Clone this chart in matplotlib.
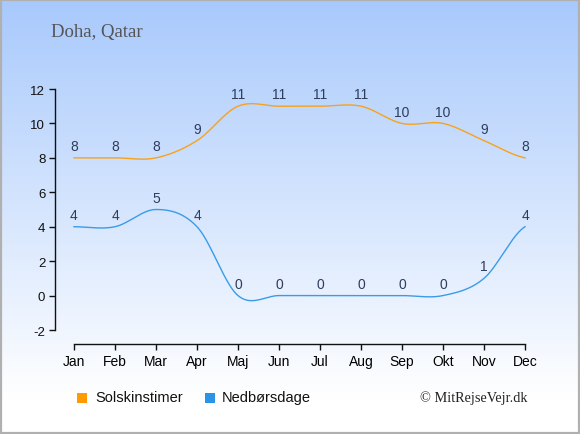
import numpy as np
import matplotlib
matplotlib.use("Agg")
import matplotlib.pyplot as plt
from matplotlib.patches import Rectangle

months = ["Jan", "Feb", "Mar", "Apr", "Maj", "Jun", "Jul", "Aug", "Sep", "Okt", "Nov", "Dec"]
sun_hours = [8, 8, 8, 9, 11, 11, 11, 11, 10, 10, 9, 8]
rain_days = [4, 4, 5, 4, 0, 0, 0, 0, 0, 0, 1, 4]
yticks = [-2, 0, 2, 4, 6, 8, 10, 12]

ORANGE = "#f7a21b"
BLUE = "#3a9be8"
LABEL = "#2e3d5c"

plt.rcParams["font.family"] = ["Liberation Sans", "DejaVu Sans"]


def catmull(y, n=40):
    y = np.asarray(y, float)
    p = np.concatenate([[y[0]], y, [y[-1]]])
    xs, ys = [], []
    for i in range(len(y) - 1):
        p0, p1, p2, p3 = p[i], p[i + 1], p[i + 2], p[i + 3]
        m1 = (p2 - p0) / 2.0
        m2 = (p3 - p1) / 2.0
        t = np.linspace(0, 1, n, endpoint=False)
        h00 = 2 * t**3 - 3 * t**2 + 1
        h10 = t**3 - 2 * t**2 + t
        h01 = -2 * t**3 + 3 * t**2
        h11 = t**3 - t**2
        xs.append(i + t)
        ys.append(h00 * p1 + h10 * m1 + h01 * p2 + h11 * m2)
    xs.append([len(y) - 1])
    ys.append([y[-1]])
    return np.concatenate(xs), np.concatenate(ys)


W, H = 580, 435
fig = plt.figure(figsize=(W / 100, H / 100), dpi=100)

bg = fig.add_axes([0, 0, 1, 1], zorder=-10)
grad = np.linspace(0, 1, 256)[:, None]
top = np.array([168, 201, 252]) / 255.0
bot = np.array([255, 255, 255]) / 255.0
frac = np.clip(grad / 0.92, 0, 1)
img = top[None, None, :] * (1 - frac[..., None]) + bot[None, None, :] * frac[..., None]
bg.imshow(img, aspect="auto", extent=[0, 1, 0, 1], origin="upper")
bg.add_patch(Rectangle((0.0015, 0.002), 0.997, 0.996, fill=False, edgecolor="#b0b0b0",
                       linewidth=1.6, transform=bg.transAxes))
bg.set_xlim(0, 1)
bg.set_ylim(0, 1)
bg.axis("off")

left = 55 / W
right = 529 / W
ax_top = 90 / H
ax_bot = 331 / H
ax = fig.add_axes([left, 1 - ax_bot, right - left, ax_bot - ax_top])
ax.patch.set_alpha(0)

x = np.arange(len(months))
xs, ys = catmull(sun_hours)
ax.plot(xs, ys, color=ORANGE, lw=1.0, clip_on=False)
xs, ys = catmull(rain_days)
ax.plot(xs, ys, color=BLUE, lw=1.0, clip_on=False)

for xi, v in zip(x, sun_hours):
    ax.annotate(str(v), (xi, v), xytext=(0, 3.5), textcoords="offset points",
                ha="center", va="bottom", fontsize=10, color=LABEL)
for xi, v in zip(x, rain_days):
    ax.annotate(str(v), (xi, v), xytext=(0, 3.5), textcoords="offset points",
                ha="center", va="bottom", fontsize=10, color=LABEL)

ax.set_xlim(-19 / 41, 11 + 4 / 41)
ax.set_ylim(-2, 12)
ax.set_yticks(yticks)
ax.set_yticklabels([str(t) for t in yticks], fontsize=9.5, color="#111111")
ax.set_xticks(x)
ax.set_xticklabels(months, fontsize=9.5, color="#111111")

for s in ["top", "right"]:
    ax.spines[s].set_visible(False)
ax.spines["left"].set_color("#111111")
ax.spines["left"].set_linewidth(1.0)
ax.spines["bottom"].set_color("#111111")
ax.spines["bottom"].set_linewidth(1.0)
ax.spines["bottom"].set_position(("outward", 10))
ax.spines["bottom"].set_bounds(0, 11)
ax.tick_params(axis="y", direction="out", length=4, width=1, color="#111111", pad=3)
ax.tick_params(axis="x", direction="out", length=4, width=1, color="#111111", pad=3)

fig.text(51 / W, 1 - 32 / H, "Doha, Qatar", family=["Liberation Serif", "DejaVu Serif"],
         fontsize=13.5, color="#555555", ha="left", va="center")

ly = 1 - 398 / H
fig.patches.append(Rectangle((77 / W, 1 - 404 / H), 10 / W, 10 / H, transform=fig.transFigure,
                             facecolor="#ff9a00", edgecolor="none"))
fig.text(95 / W, ly, "Solskinstimer", fontsize=10.5, color="#111111", ha="left", va="center")
fig.patches.append(Rectangle((205 / W, 1 - 404 / H), 10 / W, 10 / H, transform=fig.transFigure,
                             facecolor="#2b94e8", edgecolor="none"))
fig.text(222 / W, ly, "Nedbørsdage", fontsize=10.5, color="#111111", ha="left", va="center")
fig.text(527 / W, ly, "© MitRejseVejr.dk", family=["Liberation Serif", "DejaVu Serif"],
         fontsize=10.3, color="#222222", ha="right", va="center")

fig.savefig("out.png", dpi=100)
